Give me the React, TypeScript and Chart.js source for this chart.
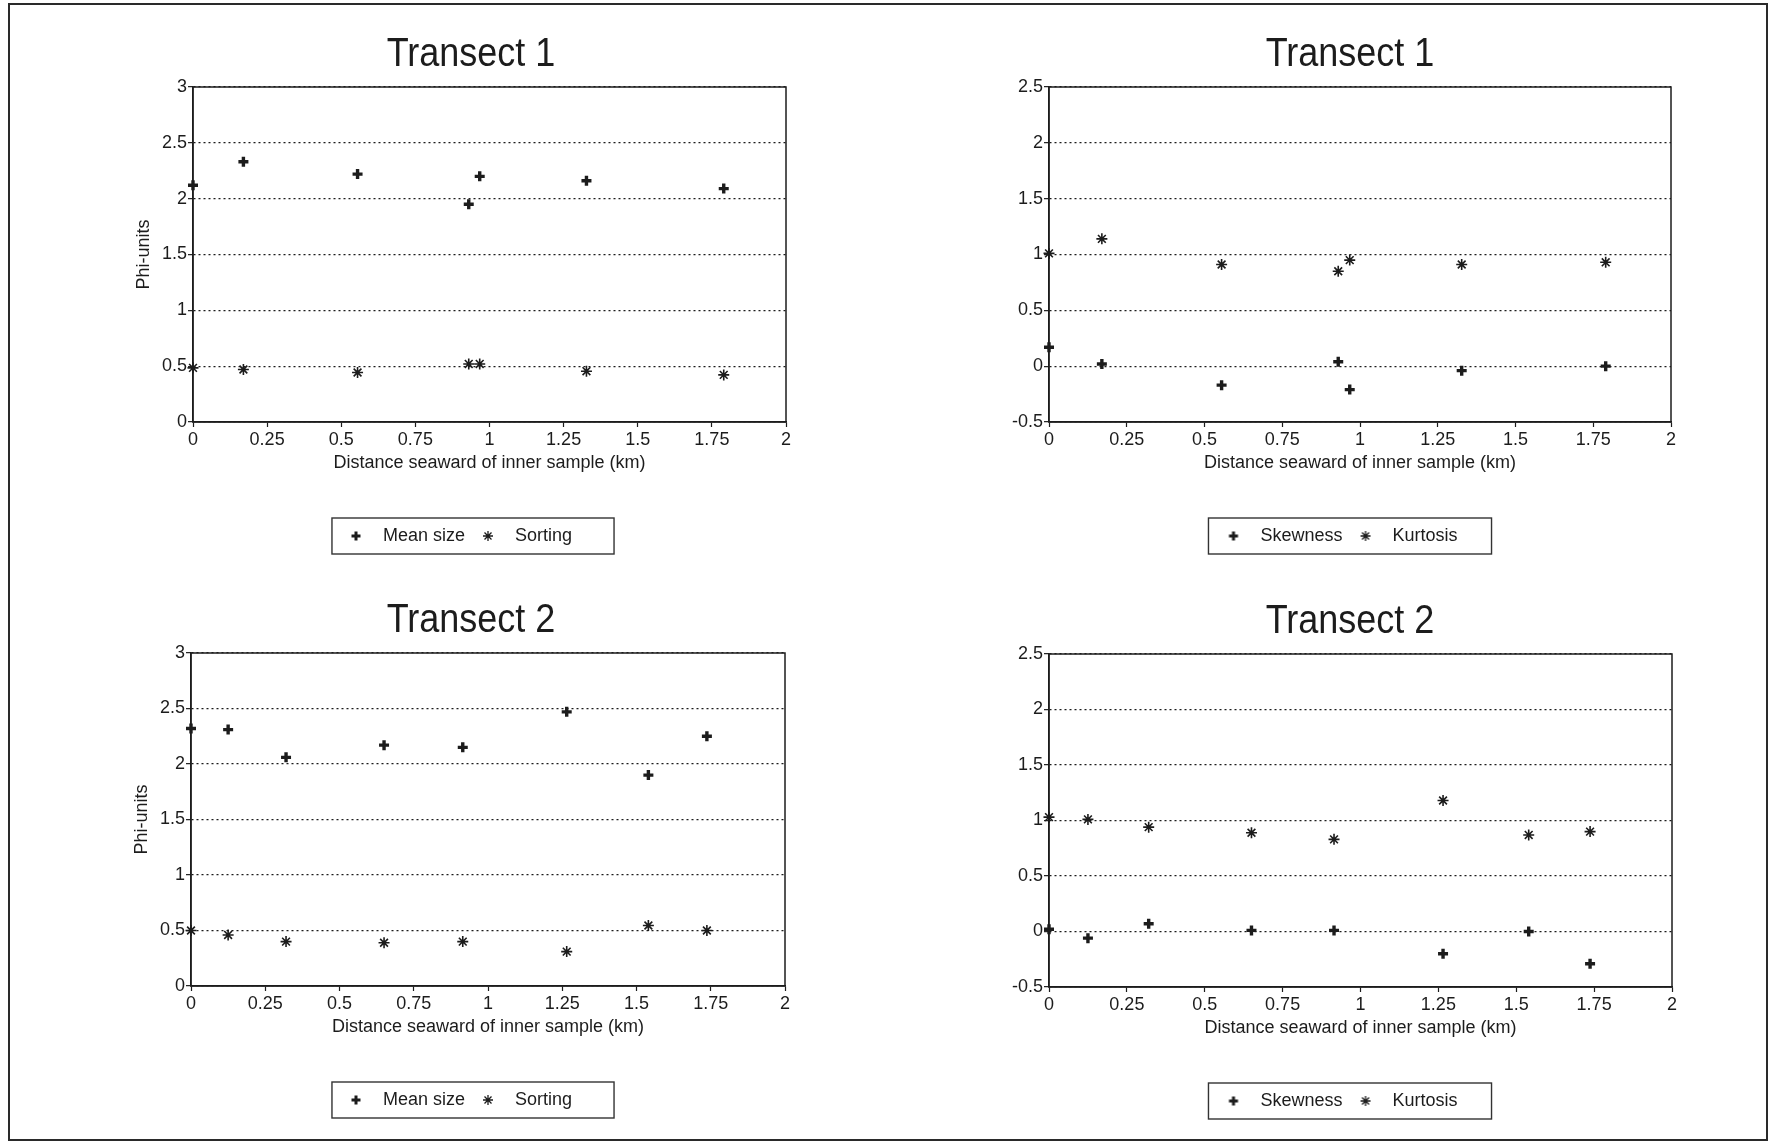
import React, { useEffect, useRef } from 'react';
import { Chart, registerables } from 'chart.js';

Chart.register(...registerables);

const FONT = "'Liberation Sans', Arial, Helvetica, sans-serif";
const INK = '#1c1c1c';

// ---- Data ----
const T1_DISTANCE = [0, 0.17, 0.555, 0.93, 0.967, 1.327, 1.79];
const T1_MEAN_SIZE = [2.12, 2.33, 2.22, 1.95, 2.2, 2.16, 2.09];
const T1_SORTING = [0.485, 0.47, 0.443, 0.52, 0.52, 0.455, 0.422];
const T1_SKEWNESS = [0.17, 0.02, -0.17, 0.04, -0.21, -0.04, 0.0];
const T1_KURTOSIS = [1.01, 1.14, 0.91, 0.85, 0.95, 0.91, 0.93];

const T2_DISTANCE = [0, 0.125, 0.32, 0.65, 0.915, 1.265, 1.54, 1.737];
const T2_MEAN_SIZE = [2.32, 2.31, 2.06, 2.17, 2.15, 2.47, 1.9, 2.25];
const T2_SORTING = [0.5, 0.46, 0.4, 0.39, 0.4, 0.31, 0.545, 0.5];
const T2_SKEWNESS = [0.02, -0.06, 0.07, 0.01, 0.01, -0.2, 0.0, -0.29];
const T2_KURTOSIS = [1.03, 1.01, 0.94, 0.89, 0.83, 1.18, 0.87, 0.9];

const X_AXIS_TITLE = 'Distance seaward of inner sample (km)';
const Y_AXIS_TITLE = 'Phi-units';
const SIZE_LABELS = ['Mean size', 'Sorting'];
const SHAPE_LABELS = ['Skewness', 'Kurtosis'];

function makeMarker(kind: 'plus' | 'star'): HTMLCanvasElement {
  const c = document.createElement('canvas');
  c.width = 12;
  c.height = 12;
  const g = c.getContext('2d')!;
  g.strokeStyle = INK;
  g.fillStyle = INK;
  if (kind === 'plus') {
    g.fillRect(4.5, 1.5, 3, 9);
    g.fillRect(1.5, 4.5, 9, 3);
  } else {
    g.lineWidth = 1.3;
    g.beginPath();
    g.moveTo(6, 1); g.lineTo(6, 11);
    g.moveTo(1, 6); g.lineTo(11, 6);
    g.moveTo(2.5, 2.5); g.lineTo(9.5, 9.5);
    g.moveTo(9.5, 2.5); g.lineTo(2.5, 9.5);
    g.stroke();
  }
  return c;
}

const fmt = (v: any) => String(Math.round(Number(v) * 100) / 100);

const framePlugin = {
  id: 'frame',
  beforeDatasetsDraw(chart: any) {
    const { ctx, chartArea: a } = chart;
    ctx.save();
    ctx.setLineDash([]);
    ctx.strokeStyle = INK;
    ctx.lineWidth = 1.5;
    ctx.strokeRect(a.left, a.top, a.right - a.left, a.bottom - a.top);
    ctx.restore();
  },
  afterDraw(chart: any, _args: any, opts: any) {
    const ctx = chart.ctx;
    const a = chart.chartArea;
    // panel title
    ctx.save();
    ctx.fillStyle = INK;
    ctx.font = `normal 40px ${FONT}`;
    ctx.textAlign = 'center';
    ctx.textBaseline = 'middle';
    ctx.translate(opts.titleX, a.top - 32.5);
    ctx.scale(0.9, 1);
    ctx.fillText(opts.title, 0, 0);
    ctx.restore();
    // legend frame
    const hb = chart.legend && chart.legend.legendHitBoxes;
    if (!hb || !hb.length) return;
    const last = hb[hb.length - 1];
    const left = hb[0].left - opts.padL;
    const right = last.left + last.width + opts.padR;
    const top = a.bottom + 96;
    const bottom = a.bottom + 132;
    ctx.save();
    ctx.setLineDash([]);
    ctx.strokeStyle = '#333';
    ctx.lineWidth = 1.4;
    ctx.strokeRect(left, top, right - left, bottom - top);
    ctx.restore();
  },
};

type PanelProps = {
  title: string;
  titleX: number;
  xs: number[];
  a: number[];
  b: number[];
  labels: string[];
  yMin: number;
  yMax: number;
  yTitle: string | null;
  area: { left: number; right: number; top: number; bottom: number };
  canvasLeft: number;
  yTitlePad: number;
  padL: number;
  padR: number;
};

function Panel(p: PanelProps) {
  const ref = useRef<HTMLCanvasElement | null>(null);
  const width = p.area.right + 12 - p.canvasLeft;
  const height = p.area.bottom - p.area.top + 205;
  const top = p.area.top - 67;
  const yWidth = p.area.left - p.canvasLeft;

  useEffect(() => {
    const canvas = ref.current!;
    const plus = makeMarker('plus');
    const star = makeMarker('star');
    const tickFont = { family: FONT, size: 18 };
    const chart = new Chart(canvas, {
      type: 'scatter',
      data: {
        datasets: [
          {
            label: p.labels[0],
            data: p.xs.map((x, i) => ({ x, y: p.a[i] })),
            pointStyle: 'cross',
            pointRadius: 5,
            pointHoverRadius: 5,
            pointBorderWidth: 3.4,
            borderColor: INK,
            backgroundColor: INK,
            clip: false,
          } as any,
          {
            label: p.labels[1],
            data: p.xs.map((x, i) => ({ x, y: p.b[i] })),
            pointStyle: 'star',
            pointRadius: 5.5,
            pointHoverRadius: 5.5,
            pointBorderWidth: 1.6,
            borderColor: INK,
            backgroundColor: INK,
            clip: false,
          } as any,
        ],
      },
      options: {
        responsive: false,
        animation: false,
        events: [],
        layout: { padding: { left: 0, right: 12, top: 67, bottom: 5 } },
        plugins: {
          title: { display: false },
          legend: {
            position: 'bottom',
            labels: {
              usePointStyle: true,
              pointStyleWidth: 36,
              padding: 5,
              color: INK,
              font: { family: FONT, size: 18 },
              generateLabels: (chart: any) => {
                const items = (Chart.defaults.plugins.legend.labels as any).generateLabels(chart);
                return items.map((it: any, i: number) => ({ ...it, pointStyle: i === 0 ? plus : star }));
              },
            },
          },
          tooltip: { enabled: false },
          frame: { padL: p.padL, padR: p.padR, title: p.title, titleX: p.titleX - p.canvasLeft },
        } as any,
        scales: {
          x: {
            type: 'linear',
            min: 0,
            max: 2,
            afterFit: (s: any) => { s.height = 100; },
            ticks: { stepSize: 0.25, callback: fmt, color: INK, font: tickFont, padding: 2, maxRotation: 0, autoSkip: false },
            grid: { drawOnChartArea: false, drawTicks: true, tickLength: 5, tickColor: INK, tickWidth: 1.2 },
            border: { display: true, color: INK, width: 1.5 },
            title: { display: true, text: X_AXIS_TITLE, color: INK, font: tickFont, padding: { top: 0, bottom: 48.5 } },
          },
          y: {
            type: 'linear',
            min: p.yMin,
            max: p.yMax,
            afterFit: (s: any) => { s.width = yWidth; },
            ticks: { stepSize: 0.5, callback: fmt, color: INK, font: tickFont, padding: 1 },
            grid: { color: INK, lineWidth: 1.3, drawTicks: true, tickLength: 5, tickColor: INK, tickWidth: 1.2, tickBorderDash: [] } as any,
            border: { display: true, color: INK, width: 1.5, dash: [2, 3] },
            title: {
              display: !!p.yTitle,
              text: p.yTitle || '',
              color: INK,
              font: tickFont,
              padding: { top: p.yTitlePad, bottom: 0 },
            },
          },
        },
      } as any,
      plugins: [framePlugin],
    });
    return () => chart.destroy();
  }, []);

  return (
    <canvas
      ref={ref}
      width={width}
      height={height}
      style={{ position: 'absolute', left: p.canvasLeft, top, width, height }}
    />
  );
}

export default function App() {
  return (
    <div style={{ position: 'absolute', left: 0, top: 0, width: 1768, height: 1142, background: '#fff', overflow: 'hidden' }}>
      <div
        style={{
          position: 'absolute',
          left: 8,
          top: 3,
          width: 1760,
          height: 1138,
          boxSizing: 'border-box',
          border: '2.5px solid #2a2a2a',
        }}
      />
      <Panel
        title="Transect 1"
        titleX={471}
        xs={T1_DISTANCE}
        a={T1_MEAN_SIZE}
        b={T1_SORTING}
        labels={SIZE_LABELS}
        yMin={0}
        yMax={3}
        yTitle={Y_AXIS_TITLE}
        area={{ left: 193, right: 786, top: 87, bottom: 422 }}
        canvasLeft={124}
        yTitlePad={9}
        padL={6}
        padR={42}
      />
      <Panel
        title="Transect 1"
        titleX={1350}
        xs={T1_DISTANCE}
        a={T1_SKEWNESS}
        b={T1_KURTOSIS}
        labels={SHAPE_LABELS}
        yMin={-0.5}
        yMax={2.5}
        yTitle={null}
        area={{ left: 1049, right: 1671, top: 87, bottom: 422 }}
        canvasLeft={1002}
        yTitlePad={0}
        padL={7}
        padR={34}
      />
      <Panel
        title="Transect 2"
        titleX={471}
        xs={T2_DISTANCE}
        a={T2_MEAN_SIZE}
        b={T2_SORTING}
        labels={SIZE_LABELS}
        yMin={0}
        yMax={3}
        yTitle={Y_AXIS_TITLE}
        area={{ left: 191, right: 785, top: 653, bottom: 986 }}
        canvasLeft={125}
        yTitlePad={6}
        padL={6}
        padR={42}
      />
      <Panel
        title="Transect 2"
        titleX={1350}
        xs={T2_DISTANCE}
        a={T2_SKEWNESS}
        b={T2_KURTOSIS}
        labels={SHAPE_LABELS}
        yMin={-0.5}
        yMax={2.5}
        yTitle={null}
        area={{ left: 1049, right: 1672, top: 654, bottom: 987 }}
        canvasLeft={1001}
        yTitlePad={0}
        padL={7}
        padR={34}
      />
    </div>
  );
}
